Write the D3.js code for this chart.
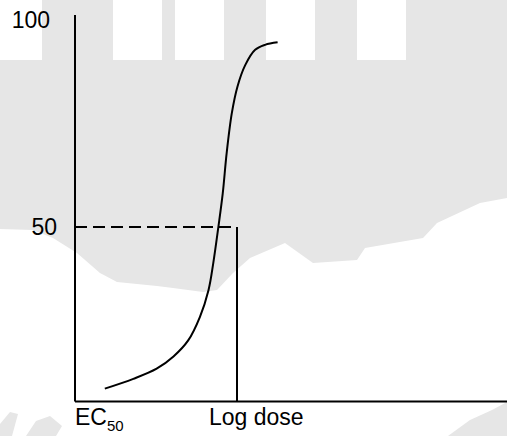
<!DOCTYPE html>
<html lang="en">
<head>
    <meta charset="UTF-8">
    <title>Log dose response</title>
    <script src="https://d3js.org/d3.v7.min.js"></script>
    <style>
        body {
            margin: 0;
            padding: 0;
            background-color: #fff;
        }

        #chart {
            display: block;
        }

        .label {
            font-family: Arial, "Liberation Sans", sans-serif;
            font-size: 23px;
            fill: #000;
        }
    </style>
</head>
<body>
<svg id="chart"></svg>

<script>
    // Log dose (x) and response in % (y)
    const logDose = [0.69, 1.35, 1.89, 2.28, 2.62, 2.89, 3.09, 3.20, 3.32, 3.42, 3.51, 3.63, 3.76, 3.94, 4.17, 4.40, 4.69];
    const response = [3.7, 6.5, 9.4, 12.9, 17.5, 24.2, 31.9, 39.6, 50.1, 58.1, 67.8, 77.5, 83.9, 89.1, 92.8, 94.0, 94.6];
    const ec50 = 3.75;
    const halfResponse = 50;
    const yTickValues = [50, 100];
    const yTickLabels = ['50', '100'];

    const width = 507;
    const height = 436;

    const svg = d3.select('#chart')
        .attr('width', width)
        .attr('height', height);

    // Background watermark (light gray shapes)
    const bg = svg.append('g').attr('fill', '#e6e6e6');
    bg.append('path')
        .attr('d', 'M0,0 L507,0 L507,198 L480,203 L437,223 L423,238 L365,248 L357,260 L313,263 L285,243 ' +
            'L250,258 L233,273 L217,290 L203,292 L173,288 L157,286 L117,282 L100,273 L77,253 L53,238 L33,230 L0,229 Z');
    [[0, 42], [113, 162], [175, 224], [266, 315], [357, 406]].forEach(d => {
        svg.append('rect')
            .attr('x', d[0]).attr('y', 0)
            .attr('width', d[1] - d[0]).attr('height', 60)
            .attr('fill', '#fff');
    });
    bg.append('path')
        .attr('d', 'M0,436 L0,424 L10,412 L18,414 L12,436 Z M26,436 L36,421 L50,416 L62,426 L56,436 Z');
    bg.append('path')
        .attr('d', 'M448,436 L470,420 L492,410 L507,402 L507,436 Z');

    // Scales: the schematic y axis is not uniform, so use a piecewise scale
    const x = d3.scaleLinear().domain([0, 10]).range([75, 507]);
    const y = d3.scaleLinear().domain([0, 50, 100]).range([401.5, 227, 20]);

    const chart = svg.append('g');

    // Axes lines
    chart.append('line')
        .attr('x1', x(0)).attr('x2', x(0))
        .attr('y1', y(0)).attr('y2', y(101.2))
        .attr('stroke', '#000').attr('stroke-width', 2);
    chart.append('line')
        .attr('x1', x(0)).attr('x2', x(10))
        .attr('y1', y(0)).attr('y2', y(0))
        .attr('stroke', '#000').attr('stroke-width', 2);

    // Y tick labels
    const labelRight = { '50': 57, '100': 50 };
    yTickValues.forEach((v, i) => {
        chart.append('text')
            .attr('class', 'label')
            .attr('x', labelRight[yTickLabels[i]])
            .attr('y', y(v))
            .attr('dy', '0.35em')
            .attr('text-anchor', 'end')
            .text(yTickLabels[i]);
    });

    // X labels
    const ec = chart.append('text')
        .attr('class', 'label')
        .attr('x', x(0))
        .attr('y', 425);
    ec.append('tspan').text('EC');
    ec.append('tspan')
        .attr('font-size', '15px')
        .attr('dy', 6)
        .text('50');

    chart.append('text')
        .attr('class', 'label')
        .attr('x', 209)
        .attr('y', 425)
        .text('Log dose');

    // EC50 guide lines
    chart.append('line')
        .attr('x1', x(0)).attr('x2', x(ec50))
        .attr('y1', y(halfResponse)).attr('y2', y(halfResponse))
        .attr('stroke', '#000').attr('stroke-width', 2)
        .attr('stroke-dasharray', '12,6');
    chart.append('line')
        .attr('x1', x(ec50)).attr('x2', x(ec50))
        .attr('y1', y(halfResponse)).attr('y2', y(0))
        .attr('stroke', '#000').attr('stroke-width', 2);

    // Dose response curve
    const data = logDose.map((d, i) => ({ dose: d, resp: response[i] }));
    const line = d3.line()
        .x(d => x(d.dose))
        .y(d => y(d.resp))
        .curve(d3.curveCatmullRom.alpha(0.5));

    chart.append('path')
        .datum(data)
        .attr('fill', 'none')
        .attr('stroke', '#000')
        .attr('stroke-width', 2)
        .attr('d', line);
</script>
</body>
</html>
